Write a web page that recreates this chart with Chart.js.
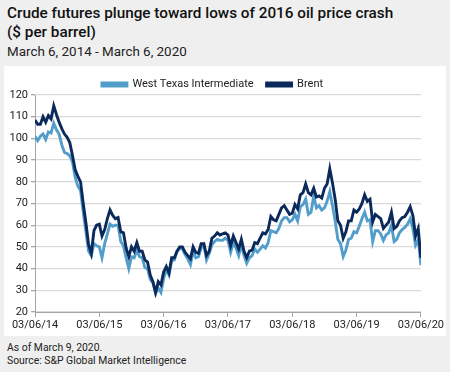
<!DOCTYPE html>
<html>
<head>
<meta charset="utf-8">
<script src="https://cdn.jsdelivr.net/npm/chart.js@4.4.1/dist/chart.umd.min.js"></script>
<style>
  html, body { margin: 0; padding: 0; }
  body { width: 450px; height: 372px; background: #efefef; position: relative; overflow: hidden; font-family: Roboto, "Liberation Sans", sans-serif; color: #1a1a1a; }
  .title { position: absolute; left: 7px; top: 4px; font-size: 15.3px; line-height: 19px; font-weight: 500; color: #111; white-space: nowrap; }
  .sub { position: absolute; left: 7px; top: 44px; font-size: 13.4px; line-height: 16px; color: #222; white-space: nowrap; }
  .panel { position: absolute; left: 4px; top: 66px; width: 442px; height: 270px; background: #fff; }
  .foot { position: absolute; left: 7px; top: 341px; font-size: 10.4px; line-height: 13px; color: #222; white-space: nowrap; }
</style>
</head>
<body>
<div class="title">Crude futures plunge toward lows of 2016 oil price crash<br>($ per barrel)</div>
<div class="sub">March 6, 2014 - March 6, 2020</div>
<div class="panel"><canvas id="c" width="442" height="270"></canvas></div>
<div class="foot">As of March 9, 2020.<br>Source: S&amp;P Global Market Intelligence</div>
<script>
// Half-monthly observations (6th and 21st of each month), 03/06/14 .. 03/06/20
const tickLabels = ["03/06/14", "03/06/15", "03/06/16", "03/06/17", "03/06/18", "03/06/19", "03/06/20"];
const seriesNames = ["West Texas Intermediate", "Brent"];

const wti = [
  101, 99, 101, 102, 99.5, 103, 102.5, 107, 104, 102, 97, 93.5, 93, 92, 89, 82, 78, 76, 66, 57, 48, 46, 51.5, 50.5,
  50, 45, 51.5, 56, 60.5, 59.5, 60, 60, 52.5, 50.5, 45, 40, 45.5, 45, 48.5, 45.5, 45, 40.5, 40, 35, 33.5, 28.5, 31, 29,
  35.5, 39.5, 37, 43.5, 44, 48, 49.5, 49, 46.5, 44.5, 41.8, 48, 45, 45.5, 49.5, 51, 44, 47, 51, 52.5, 53.5, 53, 53, 54,
  53, 47.5, 52, 49.5, 46, 51, 46, 42.5, 45, 46, 49, 47.5, 49, 50.5, 49.5, 52, 57.5, 57, 56.5, 58.5, 62, 63.5, 63.5, 61.5,
  62.5, 65, 62, 68.5, 69.5, 72, 65, 66, 73.5, 68, 69, 67, 68, 71, 75.5, 69, 62, 53.5, 51.5, 45.5, 48.5, 53.5, 54, 57,
  56.5, 59.5, 63, 66, 62, 62.5, 52.5, 57.5, 57.5, 56, 53, 55.5, 56.5, 60, 52.5, 53.5, 56.5, 58, 59, 60.5, 63, 58.5, 50.8, 53.5,
  41.5
];
const brent = [
  108.5, 106.5, 106.5, 110, 107.5, 110.5, 109, 115, 111, 107.5, 104.5, 102, 100.5, 98, 92, 85.5, 82.5, 80, 70, 61, 51, 47, 57.5, 60,
  60.5, 55, 58, 63, 67, 64.5, 63, 63.5, 57, 56.5, 49.5, 45.5, 50, 48, 52, 48, 48, 44, 43, 37, 34, 29, 34, 32.5,
  38.5, 41, 38, 45, 45, 48, 50, 50, 47.5, 46, 44.5, 50, 47.5, 47, 51.5, 51.5, 46, 48, 54, 55, 56.5, 55.5, 56, 56.5,
  55.5, 50.5, 55, 52, 49, 53.5, 48, 45, 48, 48.5, 52, 51.5, 54, 56.5, 56, 58, 64, 62.5, 62, 65, 68, 69, 67, 65,
  65.5, 69.5, 67.5, 74, 75, 79, 75, 74, 77, 73, 73.5, 72.5, 77, 79, 86, 79.5, 72, 62, 60, 54, 57, 62, 62, 67,
  66, 67.5, 70, 74, 71, 72, 61.5, 65, 64, 63, 58.5, 60, 61.5, 66, 58.5, 59.5, 62, 63.5, 64, 66, 68.5, 64.5, 55, 58.5,
  45
];

const toPoints = arr => arr.map((v, i) => ({ x: i, y: v }));
const stepsPerYear = 24;
const fontFam = 'Roboto, "Liberation Sans", sans-serif';

new Chart(document.getElementById('c'), {
  type: 'line',
  data: {
    datasets: [
      { label: seriesNames[0], data: toPoints(wti), borderColor: '#529dca', backgroundColor: '#529dca', borderWidth: 2.9, pointRadius: 0, tension: 0, order: 1 },
      { label: seriesNames[1], data: toPoints(brent), borderColor: '#0b2a5b', backgroundColor: '#0b2a5b', borderWidth: 2.9, pointRadius: 0, tension: 0, order: 0 }
    ]
  },
  options: {
    responsive: false,
    animation: false,
    layout: { padding: { top: 0, right: 25, left: 0, bottom: 0 } },
    plugins: {
      tooltip: { enabled: false },
      legend: {
        position: 'top',
        maxHeight: 29,
        labels: {
          boxWidth: 25, boxHeight: 3, padding: 13,
          color: '#222',
          font: { family: fontFam, size: 11 },
          sort: (a, b) => a.datasetIndex - b.datasetIndex
        }
      }
    },
    scales: {
      x: {
        type: 'linear',
        min: 0, max: (tickLabels.length - 1) * stepsPerYear,
        afterFit: s => { s.height = 24; },
        ticks: {
          stepSize: stepsPerYear, autoSkip: false, maxRotation: 0, padding: 2,
          color: '#222', font: { family: fontFam, size: 11 },
          callback: v => tickLabels[Math.round(v / stepsPerYear)]
        },
        grid: { drawOnChartArea: false, drawTicks: true, tickLength: 5, tickColor: '#a6a6a6', lineWidth: 1 },
        border: { color: '#a6a6a6', width: 1 }
      },
      y: {
        min: 20, max: 120,
        afterFit: s => { s.width = 31; },
        ticks: {
          stepSize: 10, padding: 3,
          color: '#222', font: { family: fontFam, size: 11 }
        },
        grid: { color: '#d9d9d9', lineWidth: 1.3, tickLength: 4, tickColor: '#a6a6a6' },
        border: { color: '#a6a6a6', width: 1 }
      }
    }
  }
});
</script>
</body>
</html>
